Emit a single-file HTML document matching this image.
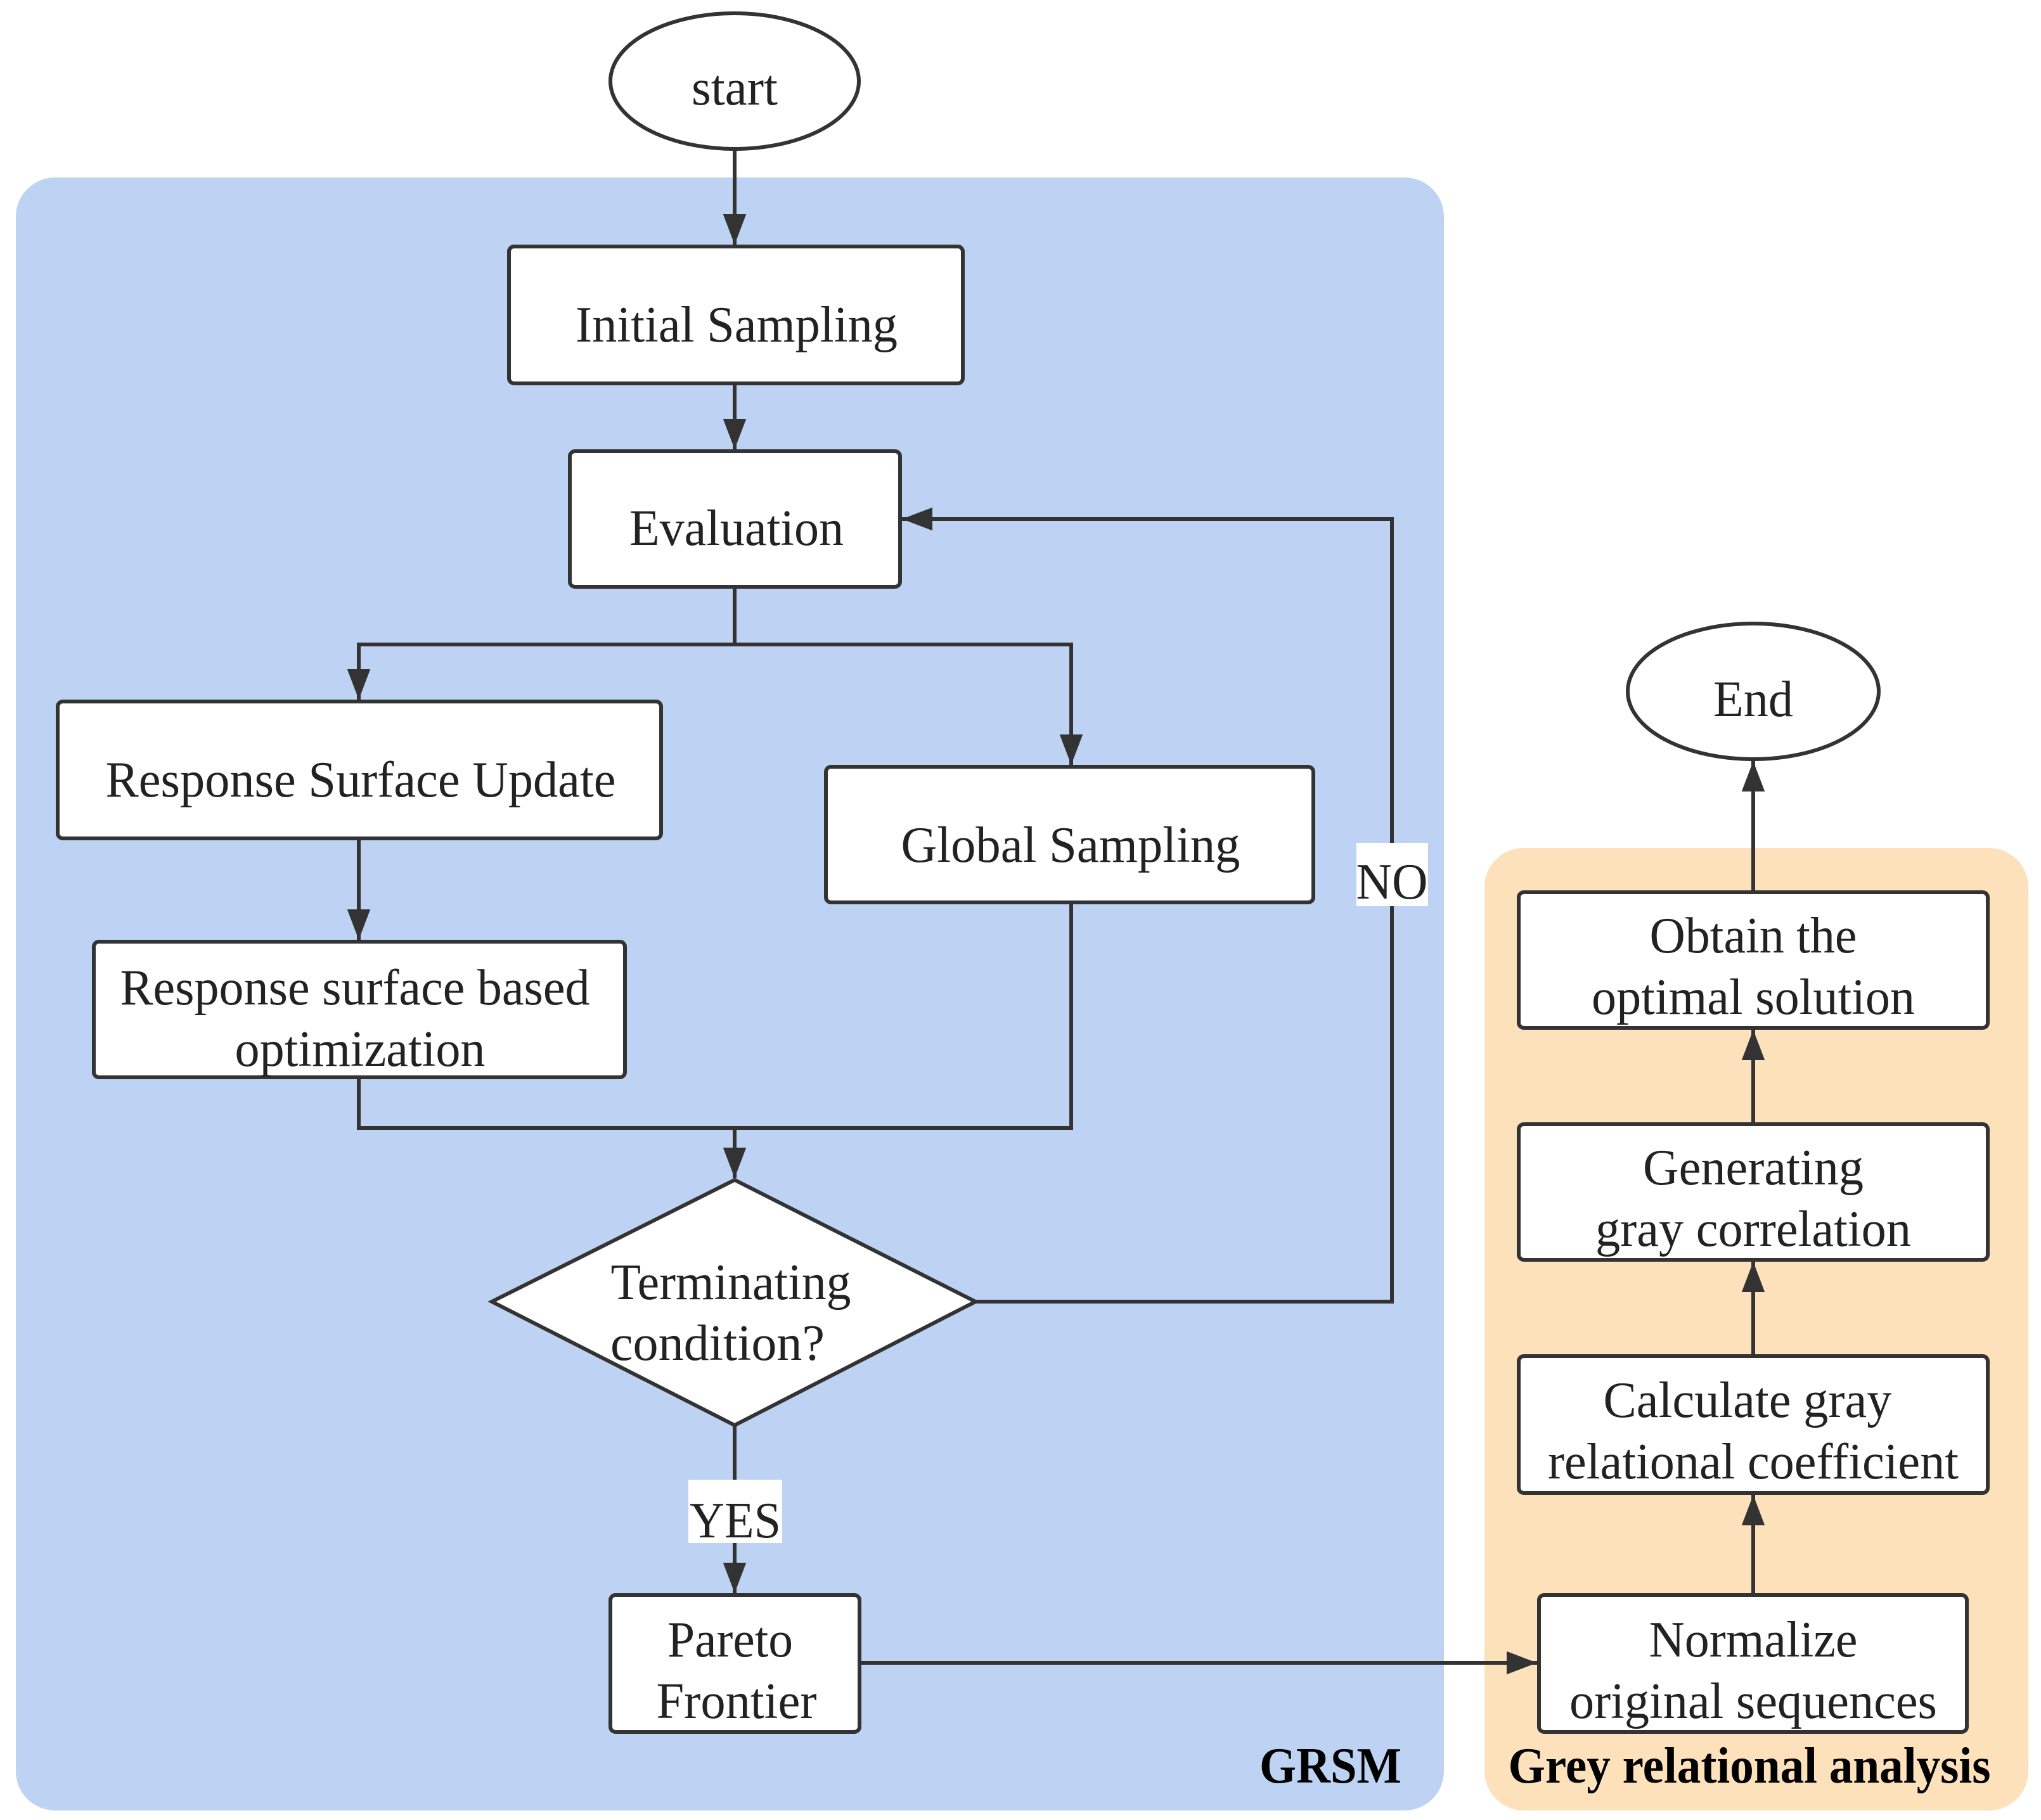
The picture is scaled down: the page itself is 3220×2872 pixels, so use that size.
<!DOCTYPE html>
<html><head><meta charset="utf-8"><style>html,body{margin:0;padding:0;background:#fff}svg{display:block}</style></head>
<body>
<svg width="3220" height="2872" viewBox="0 0 3220 2872" xmlns="http://www.w3.org/2000/svg" font-family="'Liberation Serif', serif" fill="#222">
<defs>
<marker id="b" viewBox="0 0 10 10" refX="10" refY="5" markerWidth="48" markerHeight="48" orient="auto" markerUnits="userSpaceOnUse" preserveAspectRatio="none"><path d="M0,1.2 L10,5 L0,8.8 z" fill="#333"/></marker>
</defs>
<rect x="25" y="280" width="2253" height="2577" rx="62" fill="#bed3f3"/>
<rect x="2342" y="1338" width="858" height="1519" rx="62" fill="#fde1bb"/>

<g stroke="#333" stroke-width="6" fill="none">
<line x1="1159" y1="235" x2="1159" y2="386" marker-end="url(#b)"/>
<line x1="1159" y1="605" x2="1159" y2="709" marker-end="url(#b)"/>
<polyline points="1159,926 1159,1017 566,1017 566,1104" marker-end="url(#b)"/>
<polyline points="1159,1017 1690,1017 1690,1207" marker-end="url(#b)"/>
<line x1="566" y1="1323" x2="566" y2="1483" marker-end="url(#b)"/>
<polyline points="566,1700 566,1780 1690,1780 1690,1424"/>
<line x1="1159" y1="1780" x2="1159" y2="1859" marker-end="url(#b)"/>
<polyline points="1539,2054 2196,2054 2196,819 1423,819" marker-end="url(#b)"/>
<line x1="1159" y1="2249" x2="1159" y2="2514" marker-end="url(#b)"/>
<line x1="1356" y1="2624" x2="2425" y2="2624" marker-end="url(#b)"/>
<line x1="2766" y1="2517" x2="2766" y2="2359" marker-end="url(#b)"/>
<line x1="2766" y1="2140" x2="2766" y2="1991" marker-end="url(#b)"/>
<line x1="2766" y1="1774" x2="2766" y2="1625" marker-end="url(#b)"/>
<line x1="2766" y1="1408" x2="2766" y2="1201" marker-end="url(#b)"/>
</g>

<g stroke="#333" stroke-width="6" fill="#fff">
<ellipse cx="1159" cy="128" rx="196" ry="107"/>
<ellipse cx="2766" cy="1091" rx="198" ry="107"/>
<rect x="803" y="389" width="716" height="216" rx="8"/>
<rect x="899" y="712" width="521" height="214" rx="8"/>
<rect x="91" y="1107" width="952" height="216" rx="8"/>
<rect x="1303" y="1210" width="769" height="214" rx="8"/>
<rect x="148" y="1486" width="838" height="214" rx="8"/>
<polygon points="776,2054 1159,1862 1539,2054 1159,2249"/>
<rect x="963" y="2517" width="393" height="216" rx="8"/>
<rect x="2396" y="1408" width="740" height="214" rx="8"/>
<rect x="2396" y="1774" width="740" height="214" rx="8"/>
<rect x="2396" y="2140" width="740" height="216" rx="8"/>
<rect x="2428" y="2517" width="675" height="216" rx="8"/>
</g>

<rect x="2140" y="1330" width="113" height="100" fill="#fff"/>
<rect x="1086" y="2335" width="148" height="100" fill="#fff"/>

<g font-size="80" text-anchor="middle" fill="#222">
<text x="1159" y="165" textLength="136" lengthAdjust="spacingAndGlyphs">start</text>
<text x="2766" y="1130" textLength="126" lengthAdjust="spacingAndGlyphs">End</text>
<text x="1162" y="539" textLength="508" lengthAdjust="spacingAndGlyphs">Initial Sampling</text>
<text x="1162" y="860" textLength="338" lengthAdjust="spacingAndGlyphs">Evaluation</text>
<text x="569" y="1257" textLength="805" lengthAdjust="spacingAndGlyphs">Response Surface Update</text>
<text x="1689" y="1360" textLength="535" lengthAdjust="spacingAndGlyphs">Global Sampling</text>
<text x="560" y="1585" textLength="741" lengthAdjust="spacingAndGlyphs">Response surface based</text>
<text x="568" y="1682" textLength="395" lengthAdjust="spacingAndGlyphs">optimization</text>
<text x="1153" y="2050" textLength="379" lengthAdjust="spacingAndGlyphs">Terminating</text>
<text x="1132" y="2146" textLength="338" lengthAdjust="spacingAndGlyphs">condition?</text>
<text x="1152" y="2614" textLength="198" lengthAdjust="spacingAndGlyphs">Pareto</text>
<text x="1162" y="2711" textLength="253" lengthAdjust="spacingAndGlyphs">Frontier</text>
<text x="2766" y="1503" textLength="327" lengthAdjust="spacingAndGlyphs">Obtain the</text>
<text x="2766" y="1600" textLength="510" lengthAdjust="spacingAndGlyphs">optimal solution</text>
<text x="2766" y="1869" textLength="348" lengthAdjust="spacingAndGlyphs">Generating</text>
<text x="2766" y="1966" textLength="498" lengthAdjust="spacingAndGlyphs">gray correlation</text>
<text x="2757" y="2236" textLength="455" lengthAdjust="spacingAndGlyphs">Calculate gray</text>
<text x="2766" y="2333" textLength="648" lengthAdjust="spacingAndGlyphs">relational coefficient</text>
<text x="2766" y="2614" textLength="329" lengthAdjust="spacingAndGlyphs">Normalize</text>
<text x="2766" y="2711" textLength="580" lengthAdjust="spacingAndGlyphs">original sequences</text>
<text x="2196" y="1418" textLength="113" lengthAdjust="spacingAndGlyphs">NO</text>
<text x="1160" y="2426" textLength="144" lengthAdjust="spacingAndGlyphs">YES</text>
<text x="2099" y="2813" font-weight="bold" fill="#000" textLength="224" lengthAdjust="spacingAndGlyphs">GRSM</text>
<text x="2760" y="2813" font-weight="bold" fill="#000" textLength="761" lengthAdjust="spacingAndGlyphs">Grey relational analysis</text>
</g>
</svg>
</body></html>
